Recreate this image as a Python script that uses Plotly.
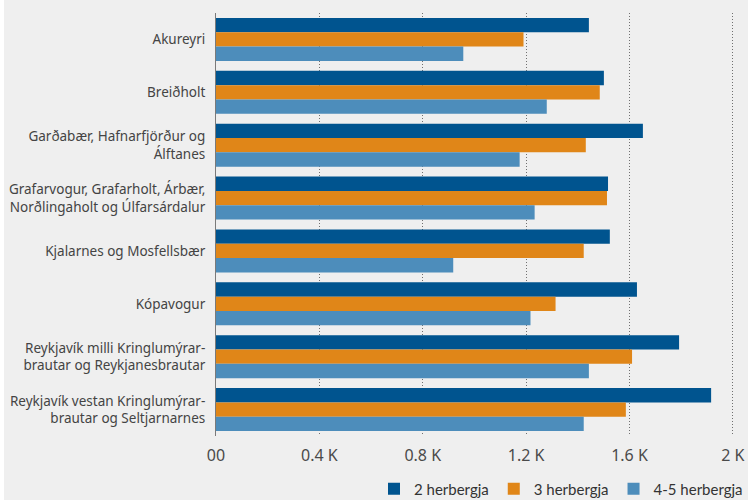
import plotly.graph_objects as go

categories = [
    "Akureyri",
    "Breiðholt",
    "Garðabær, Hafnarfjörður og<br>Álftanes",
    "Grafarvogur, Grafarholt, Árbær,<br>Norðlingaholt og Úlfarsárdalur",
    "Kjalarnes og Mosfellsbær",
    "Kópavogur",
    "Reykjavík milli Kringlumýrar-<br>brautar og Reykjanesbrautar",
    "Reykjavík vestan Kringlumýrar-<br>brautar og Seltjarnarnes",
]
herb2 = [1443, 1501, 1652, 1517, 1524, 1629, 1792, 1916]
herb3 = [1190, 1485, 1431, 1513, 1423, 1314, 1610, 1586]
herb45 = [957, 1280, 1175, 1233, 918, 1217, 1443, 1423]

series_names = ["2 herbergja", "3 herbergja", "4-5 herbergja"]
series_colors = ["#00548f", "#e08618", "#4d8dbb"]
tick_vals = [0, 400, 800, 1200, 1600, 2000]
tick_text = ["00", "0.4 K", "0.8 K", "1.2 K", "1.6 K", "2 K"]

fig = go.Figure()
for name, vals, col in zip(series_names, [herb2, herb3, herb45], series_colors):
    fig.add_trace(go.Bar(
        y=categories, x=vals, name=name, orientation="h",
        marker=dict(color=col, line=dict(width=0)),
        hoverinfo="x+y+name",
    ))

W, H = 748, 500
ml, mr, mt, mb = 216, 10, 13, 64
pw = W - ml - mr
ph = H - mt - mb

fig.update_layout(
    width=W, height=H,
    margin=dict(l=ml, r=mr, t=mt, b=mb, autoexpand=False),
    paper_bgcolor="#efefef",
    plot_bgcolor="#efefef",
    barmode="group",
    bargap=0.186,
    bargroupgap=0,
    font=dict(family="Noto Sans", color="#4a4a4a", size=13),
    showlegend=True,
    legend=dict(
        orientation="h", xanchor="left", yanchor="middle",
        x=(374 - ml) / pw, y=-53 / ph,
        font=dict(family="Lato", size=15, color="#333333"),
        bgcolor="rgba(0,0,0,0)",
        itemwidth=30,
        tracegroupgap=0,
    ),
    xaxis=dict(
        range=[0, 2020],
        tickvals=tick_vals, ticktext=tick_text,
        showgrid=True, gridcolor="#707070", griddash="1px,2px", gridwidth=1,
        zeroline=False, showline=False,
        ticks="outside", ticklen=5, tickcolor="rgba(0,0,0,0)",
        tickfont=dict(size=16, color="#4a4a4a"),
        automargin=False,
        fixedrange=True,
    ),
    yaxis=dict(
        autorange="reversed",
        showgrid=False, zeroline=False,
        showline=True, linecolor="#7a7a7a", linewidth=1,
        ticks="outside", ticklen=7, tickcolor="rgba(0,0,0,0)",
        tickfont=dict(size=13.5, color="#444444"),
        automargin=False,
        fixedrange=True,
    ),
    shapes=[dict(
        type="rect", xref="paper", yref="paper",
        x0=-ml / pw, x1=-(ml - 4) / pw,
        y0=-mb / ph, y1=1 + mt / ph,
        fillcolor="white", line=dict(width=0), layer="above",
    )],
)

fig.write_html(
    "out.html",
    config={"displayModeBar": False},
    post_script="document.body.style.margin='0';document.body.style.padding='0';"
                "document.body.style.overflow='hidden';",
)
